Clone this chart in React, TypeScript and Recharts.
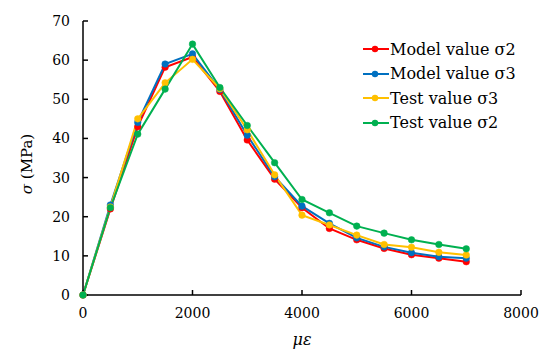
import React from 'react';
import { LineChart, Line, XAxis, YAxis } from 'recharts';

// strain (με) at each measured point
const strain = [0, 500, 1000, 1500, 2000, 2500, 3000, 3500, 4000, 4500, 5000, 5500, 6000, 6500, 7000];

// stress σ in MPa
const modelSigma2 = [0, 22, 43, 58.2, 60.8, 52, 39.6, 29.6, 22.3, 17.0, 14.1, 11.9, 10.3, 9.4, 8.5];
const modelSigma3 = [0, 23, 44.1, 59, 61.6, 52.5, 40.8, 30.2, 22.7, 18.3, 14.6, 12.3, 10.8, 9.8, 9.4];
const testSigma3 = [0, 22.5, 45, 54.2, 60.2, 52.7, 42.2, 30.7, 20.4, 17.9, 15.3, 12.9, 12.2, 10.9, 10.2];
const testSigma2 = [0, 22.3, 41.1, 52.6, 64.1, 53, 43.3, 33.8, 24.4, 21.0, 17.6, 15.8, 14.1, 12.9, 11.8];

const xTicks = [0, 2000, 4000, 6000, 8000];
const yTicks = [0, 10, 20, 30, 40, 50, 60, 70];

const series = [
  { key: 'm2', name: 'Model value σ2', color: '#FF0000', values: modelSigma2 },
  { key: 'm3', name: 'Model value σ3', color: '#0070C0', values: modelSigma3 },
  { key: 't3', name: 'Test value σ3', color: '#FFC000', values: testSigma3 },
  { key: 't2', name: 'Test value σ2', color: '#00B050', values: testSigma2 },
];

const data = strain.map((x, i) => {
  const row: Record<string, number> = { x };
  series.forEach((s) => {
    row[s.key] = s.values[i];
  });
  return row;
});

const FONT = 'DejaVu Serif';

// legend drawn as a plain overlay so it doesn't shrink the plot area
const LegendBox = () => (
  <div style={{ position: 'absolute', left: 363, top: 37, fontFamily: FONT, fontSize: 16, color: '#000' }}>
    {series.map((s) => (
      <div key={s.key} style={{ display: 'flex', alignItems: 'center', height: 24.5 }}>
        <svg width={26} height={10} style={{ marginRight: 1 }}>
          <line x1={0} y1={5} x2={26} y2={5} stroke={s.color} strokeWidth={2} />
          <circle cx={12} cy={5} r={3.2} fill={s.color} />
        </svg>
        <span style={{ whiteSpace: 'nowrap' }}>{s.name}</span>
      </div>
    ))}
  </div>
);

export default function App() {
  return (
    <div style={{ position: 'absolute', left: 0, top: 0, width: 550, height: 356, background: '#fff' }}>
      <LineChart width={550} height={356} data={data} margin={{ top: 21, right: 29, left: 23, bottom: 11 }}>
        <XAxis
          dataKey="x"
          type="number"
          domain={[0, 8000]}
          ticks={xTicks}
          height={50}
          axisLine={{ stroke: '#000', strokeWidth: 1.5 }}
          tickLine={{ stroke: '#000', strokeWidth: 1.5 }}
          tickSize={-5}
          tickMargin={18}
          tick={{ fontSize: 14, fill: '#000', fontFamily: FONT }}
          label={{
            content: () => (
              <text x={302} y={345} textAnchor="middle" fontFamily={FONT} fontSize={16} fontStyle="italic" fill="#000">
                με
              </text>
            ),
          }}
        />
        <YAxis
          type="number"
          domain={[0, 70]}
          ticks={yTicks}
          width={60}
          axisLine={{ stroke: '#000', strokeWidth: 1.5 }}
          tickLine={{ stroke: '#000', strokeWidth: 1.5 }}
          tickSize={-5}
          tickMargin={18}
          tick={{ fontSize: 14, fill: '#000', fontFamily: FONT }}
          label={{
            content: () => (
              <text
                x={32}
                y={164}
                textAnchor="middle"
                transform="rotate(-90 32 164)"
                fontFamily={FONT}
                fontSize={15}
                fill="#000"
              >
                <tspan fontStyle="italic">σ</tspan> (MPa)
              </text>
            ),
          }}
        />
        {series.map((s) => (
          <Line
            key={s.key}
            type="linear"
            dataKey={s.key}
            name={s.name}
            stroke={s.color}
            strokeWidth={2}
            dot={{ r: 3.3, fill: s.color, stroke: s.color, strokeWidth: 0.5 }}
            activeDot={false}
            isAnimationActive={false}
          />
        ))}
      </LineChart>
      <LegendBox />
    </div>
  );
}
